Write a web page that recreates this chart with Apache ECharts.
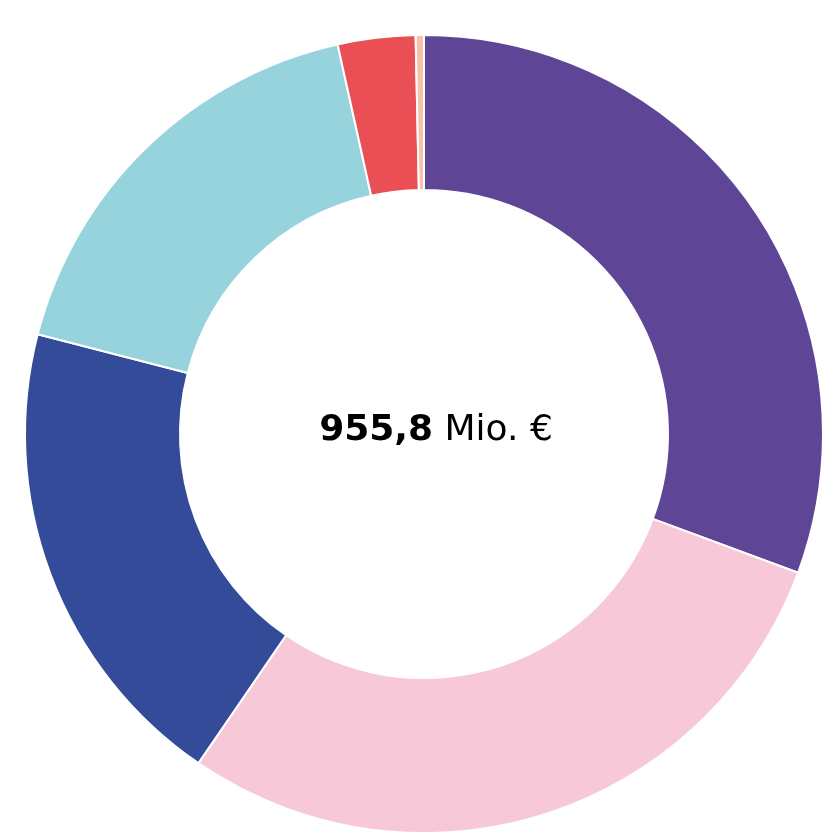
<!DOCTYPE html>
<html>
<head>
<meta charset="utf-8">
<script src="https://cdn.jsdelivr.net/npm/echarts@6/dist/echarts.min.js"></script>
<style>html,body{margin:0;padding:0;background:#fff;}#c{width:825px;height:833px;}</style>
</head>
<body>
<div id="c"></div>
<script>
const categories = ['Segment 1', 'Segment 2', 'Segment 3', 'Segment 4', 'Segment 5', 'Segment 6'];
const values = [293.0, 276.3, 186.0, 167.3, 30.0, 3.2];
const colors = ['#5f4595', '#f7c8d8', '#344b9a', '#96d3dc', '#ea4f55', '#f6c3a8'];
const totalLabel = '955,8';
const unitLabel = ' Mio. €';

const chart = echarts.init(document.getElementById('c'), null, {renderer: 'canvas'});
chart.setOption({
  animation: false,
  backgroundColor: '#ffffff',
  graphic: [{
    type: 'text',
    x: 436, y: 431,
    style: {
      x: 0, y: 0,
      text: '{b|' + totalLabel + '}{n|' + unitLabel + '}',
      align: 'center',
      verticalAlign: 'middle',
      rich: {
        b: {fontFamily: 'DejaVu Sans', fontSize: 36, fontWeight: 'bold', fill: '#000'},
        n: {fontFamily: 'DejaVu Sans', fontSize: 36, fontWeight: 'normal', fill: '#000'}
      }
    }
  }],
  series: [{
    type: 'pie',
    center: [424, 434],
    radius: [244, 399],
    startAngle: 90,
    clockwise: true,
    label: {show: false},
    labelLine: {show: false},
    emphasis: {disabled: true},
    itemStyle: {borderColor: '#ffffff', borderWidth: 2},
    data: categories.map((c, i) => ({name: c, value: values[i], itemStyle: {color: colors[i]}}))
  }]
});
</script>
</body>
</html>
